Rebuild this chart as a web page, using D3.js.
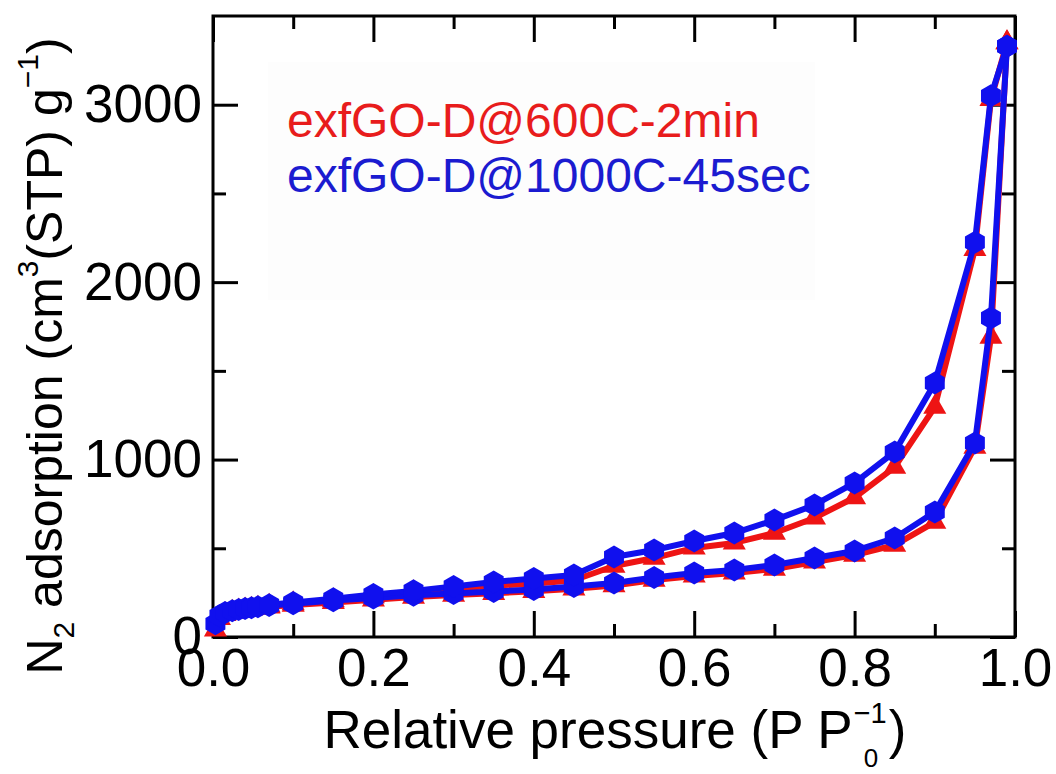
<!DOCTYPE html>
<html>
<head>
<meta charset="utf-8">
<script src="https://cdn.jsdelivr.net/npm/d3@7"></script>
<style>
  html, body { margin: 0; padding: 0; background: #fff; }
  svg { display: block; font-family: "Liberation Sans", Arial, sans-serif; }
</style>
</head>
<body>
<div id="chart"></div>
<script>
// adsorption branch (low -> high P/P0)
const pressureAds = [0.003, 0.008, 0.015, 0.024, 0.032, 0.04, 0.048, 0.056, 0.07, 0.1, 0.15, 0.2, 0.25, 0.3, 0.35, 0.4, 0.45, 0.5, 0.55, 0.6, 0.65, 0.7, 0.75, 0.8, 0.85, 0.9, 0.95, 0.97, 0.99];
const redAds  = [40, 105, 128, 140, 148, 153, 158, 163, 170, 180, 195, 210, 225, 236, 246, 258, 272, 290, 321, 344, 361, 383, 423, 462, 518, 648, 1071, 1690, 3350];
const blueAds = [75, 120, 138, 148, 155, 160, 165, 170, 178, 188, 205, 220, 235, 245, 256, 268, 284, 304, 335, 361, 378, 406, 445, 485, 558, 704, 1093, 1798, 3330];

// desorption branch (high -> low P/P0)
const pressureDes = [0.99, 0.97, 0.95, 0.9, 0.85, 0.8, 0.75, 0.7, 0.65, 0.6, 0.55, 0.5, 0.45, 0.4, 0.35, 0.3, 0.25, 0.2, 0.15, 0.1, 0.07];
const redDes  = [3350, 3030, 2185, 1296, 958, 786, 671, 586, 530, 502, 445, 400, 320, 300, 290, 270, 250, 228, 205, 188, 175];
const blueDes = [3330, 3050, 2225, 1432, 1043, 868, 744, 659, 586, 541, 490, 451, 350, 330, 310, 285, 260, 240, 215, 195, 182];

const seriesNames = ["exfGO-D@600C-2min", "exfGO-D@1000C-45sec"];

const xMajor = [0, 0.2, 0.4, 0.6, 0.8, 1.0];
const xMinor = [0.1, 0.3, 0.5, 0.7, 0.9];
const yMajor = [0, 1000, 2000, 3000];
const yMinor = [500, 1500, 2500];

const width = 1056;
const height = 774;
const plotLeft = 213, plotRight = 1015, plotTop = 16, plotBottom = 637;

const red = "#ee1414";
const blue = "#1010ee";

const svg = d3.select("#chart").append("svg")
  .attr("width", width)
  .attr("height", height);

const x = d3.scaleLinear().domain([0, 1]).range([plotLeft, plotRight]);
const y = d3.scaleLinear().domain([0, 3500]).range([plotBottom, plotTop]);

// faint legend backdrop
svg.append("rect")
  .attr("x", 268).attr("y", 62)
  .attr("width", 547).attr("height", 238)
  .attr("fill", "#fdfdfd");

// axes (ticks pointing inward on all four sides)
function styleAxis(g) {
  g.select(".domain").remove();
  g.selectAll(".tick line").attr("stroke", "#000").attr("stroke-width", 3);
  g.selectAll(".tick text").attr("fill", "#000").attr("font-size", 53)
    .attr("font-family", "'Liberation Sans', Arial, sans-serif");
}

svg.append("g").attr("transform", `translate(0,${plotBottom})`)
  .call(d3.axisBottom(x).tickValues(xMajor).tickSizeInner(-26).tickSizeOuter(0).tickPadding(11).tickFormat(d3.format(".1f")))
  .call(styleAxis);
svg.append("g").attr("transform", `translate(0,${plotBottom})`)
  .call(d3.axisBottom(x).tickValues(xMinor).tickSizeInner(-13).tickSizeOuter(0).tickFormat(""))
  .call(styleAxis);
svg.append("g").attr("transform", `translate(0,${plotTop})`)
  .call(d3.axisTop(x).tickValues(xMajor).tickSizeInner(-26).tickSizeOuter(0).tickFormat(""))
  .call(styleAxis);
svg.append("g").attr("transform", `translate(0,${plotTop})`)
  .call(d3.axisTop(x).tickValues(xMinor).tickSizeInner(-13).tickSizeOuter(0).tickFormat(""))
  .call(styleAxis);

svg.append("g").attr("transform", `translate(${plotLeft},0)`)
  .call(d3.axisLeft(y).tickValues(yMajor).tickSizeInner(-25).tickSizeOuter(0).tickPadding(11).tickFormat(d3.format("d")))
  .call(styleAxis);
svg.append("g").attr("transform", `translate(${plotLeft},0)`)
  .call(d3.axisLeft(y).tickValues(yMinor).tickSizeInner(-13).tickSizeOuter(0).tickFormat(""))
  .call(styleAxis);
svg.append("g").attr("transform", `translate(${plotRight},0)`)
  .call(d3.axisRight(y).tickValues(yMajor).tickSizeInner(-25).tickSizeOuter(0).tickFormat(""))
  .call(styleAxis);
svg.append("g").attr("transform", `translate(${plotRight},0)`)
  .call(d3.axisRight(y).tickValues(yMinor).tickSizeInner(-13).tickSizeOuter(0).tickFormat(""))
  .call(styleAxis);

// frame
svg.append("rect")
  .attr("x", plotLeft).attr("y", plotTop)
  .attr("width", plotRight - plotLeft).attr("height", plotBottom - plotTop)
  .attr("fill", "none")
  .attr("stroke", "#000")
  .attr("stroke-width", 3);

// series
const line = d3.line().x(d => x(d[0])).y(d => y(d[1]));
const hexagon = (r) => d3.range(6).map(i => {
  const a = Math.PI / 3 * i - Math.PI / 2;
  return [r * Math.cos(a), r * Math.sin(a)];
});
const triangle = d3.symbol().type(d3.symbolTriangle).size(230)();

function drawSeries(ads, des, color, marker) {
  const g = svg.append("g");
  const adsPts = pressureAds.map((p, i) => [p, ads[i]]);
  const desPts = pressureDes.map((p, i) => [p, des[i]]);
  [adsPts, desPts].forEach(pts => {
    g.append("path")
      .attr("d", line(pts))
      .attr("fill", "none")
      .attr("stroke", color)
      .attr("stroke-width", 6)
      .attr("stroke-linejoin", "round");
  });
  const all = adsPts.concat(desPts);
  if (marker === "triangle") {
    g.selectAll(".m").data(all).enter().append("path")
      .attr("d", triangle)
      .attr("transform", d => `translate(${x(d[0])},${y(d[1])})`)
      .attr("fill", color);
  } else {
    g.selectAll(".m").data(all).enter().append("polygon")
      .attr("points", hexagon(11.5).map(p => p.join(",")).join(" "))
      .attr("transform", d => `translate(${x(d[0])},${y(d[1])})`)
      .attr("fill", color);
  }
}

drawSeries(redAds, redDes, red, "triangle");
drawSeries(blueAds, blueDes, blue, "hexagon");

// legend
svg.append("text")
  .attr("x", 287).attr("y", 137)
  .attr("font-size", 48)
  .attr("fill", "#e81c1c")
  .text(seriesNames[0]);
svg.append("text")
  .attr("x", 287).attr("y", 192)
  .attr("font-size", 48)
  .attr("fill", "#1b1bd0")
  .text(seriesNames[1]);

// x title: P P0^-1 with stacked sub/superscript
const xt = svg.append("text")
  .attr("font-size", 53)
  .attr("fill", "#000")
  .attr("y", 748);
xt.append("tspan").text("Relative pressure (P P");
const xtMain = xt.node().getComputedTextLength();
const supW = 34;
const xtTotal = xtMain + supW + 2 + 18;
const xtStart = 615 - xtTotal / 2;
xt.attr("x", xtStart);
svg.append("text").attr("x", xtStart + xtMain + 1).attr("y", 723)
  .attr("font-size", 29).text("\u22121");
svg.append("text").attr("x", xtStart + xtMain + 11).attr("y", 767)
  .attr("font-size", 26).text("0");
svg.append("text").attr("x", xtStart + xtMain + supW + 2).attr("y", 748)
  .attr("font-size", 53).text(")");

// y title
const yt = svg.append("text")
  .attr("transform", "translate(62,356) rotate(-90)")
  .attr("text-anchor", "middle")
  .attr("font-size", 50)
  .attr("fill", "#000");
yt.append("tspan").text("N");
yt.append("tspan").attr("font-size", 30).attr("dy", 12).text("2");
yt.append("tspan").attr("dy", -12).text(" adsorption (cm");
yt.append("tspan").attr("font-size", 30).attr("dy", -24).text("3");
yt.append("tspan").attr("dy", 24).text("(STP) g");
yt.append("tspan").attr("font-size", 30).attr("dy", -24).text("\u22121");
yt.append("tspan").attr("dy", 24).text(")");
</script>
</body>
</html>
